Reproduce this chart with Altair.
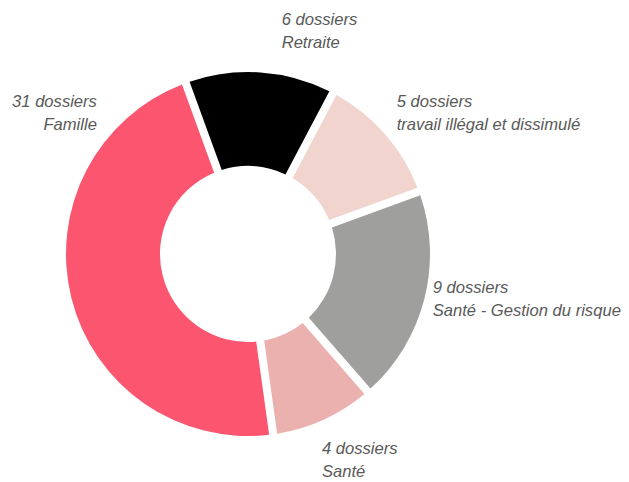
import math
import altair as alt
import pandas as pd

# --- data ---
categories = ["Retraite", "travail illégal et dissimulé", "Santé - Gestion du risque", "Santé", "Famille"]
dossiers = [6, 5, 9, 4, 31]
# angular share of each slice as drawn in the picture (percent of the ring)
parts = [13.3, 11.7, 19.2, 9.2, 46.7]
colors = ["#000000", "#F0D4CD", "#9F9F9E", "#EBB1AF", "#FB5570"]

df = pd.DataFrame({
    "categorie": categories,
    "dossiers": dossiers,
    "part": parts,
    "ordre": list(range(len(categories))),
})
df["label"] = [f"{d} dossiers\n{c}" for d, c in zip(dossiers, categories)]

start = -20 * math.pi / 180
CX, CY = 240, 246

base = alt.Chart(df)

arcs = base.mark_arc(innerRadius=88, outerRadius=182, padAngle=0.04, x=CX, y=CY).encode(
    theta=alt.Theta("part:Q", stack=True, scale=alt.Scale(range=[start, start + 2 * math.pi])),
    color=alt.Color("categorie:N", scale=alt.Scale(domain=categories, range=colors), legend=None),
    order=alt.Order("ordre:Q"),
)

lab = base.transform_joinaggregate(total="sum(part)").transform_window(
    cum="sum(part)", sort=[alt.SortField("ordre")], frame=[None, 0]
).transform_calculate(mid="(datum.cum - datum.part / 2) / datum.total")

# per-label offsets (style) and alignment
offsets = {
    "Retraite": (20, -34, "left"),
    "travail illégal et dissimulé": (-2, -20.5, "left"),
    "Santé - Gestion du risque": (-9, -16, "left"),
    "Santé": (-9, 13, "left"),
    "Famille": (43, -200, "right"),
}

layers = [arcs]
for c in categories:
    dx, dy, al = offsets[c]
    layers.append(
        lab.transform_filter(alt.datum.categorie == c).mark_text(
            x=CX, y=CY, radius=200, dx=dx, dy=dy, align=al, baseline="middle",
            lineBreak="\n", lineHeight=23, font="Liberation Sans", fontStyle="italic",
            fontSize=16.6, color="#595959",
        ).encode(
            theta=alt.Theta("mid:Q", scale=alt.Scale(domain=[0, 1], range=[start, start + 2 * math.pi])),
            text="label:N",
        )
    )

chart = alt.layer(*layers).resolve_scale(theta="independent").properties(
    width=613, height=474, autosize="none", padding=0, background="white"
).configure_view(stroke=None)

chart.save("out.html", embed_options={"renderer": "svg", "actions": False})
